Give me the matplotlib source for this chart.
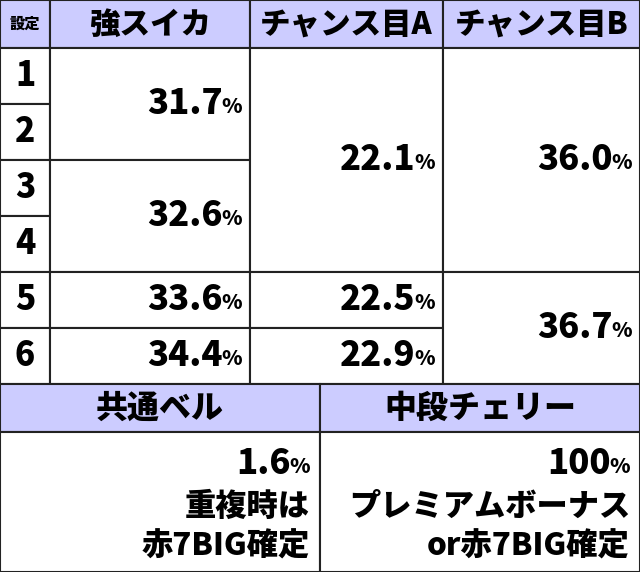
import matplotlib
matplotlib.use("Agg")
import matplotlib.pyplot as plt
from matplotlib.patches import Rectangle

headers = ["強スイカ", "チャンス目A", "チャンス目B"]
settei = ["1", "2", "3", "4", "5", "6"]
suika = [("31.7", 0, 2), ("32.6", 2, 4), ("33.6", 4, 5), ("34.4", 5, 6)]
chanceA = [("22.1", 0, 4), ("22.5", 4, 5), ("22.9", 5, 6)]
chanceB = [("36.0", 0, 4), ("36.7", 4, 6)]
bottom_headers = ["共通ベル", "中段チェリー"]
bell_lines = ["1.6", "重複時は", "赤7BIG確定"]
cherry_lines = ["100", "プレミアムボーナス", "or赤7BIG確定"]

FONT = "Noto Sans CJK JP"
W = 900
LAV = "#ccccff"
fig = plt.figure(figsize=(6.4, 5.72), dpi=100)
ax = fig.add_axes([0, 0, 1, 1])
ax.set_xlim(0, 640); ax.set_ylim(572, 0); ax.axis("off")

cols = [0, 50, 250, 443, 640]
row_top = 48; rh = 56

def rect(x0, y0, x1, y1, fc="white"):
    ax.add_patch(Rectangle((x0, y0), x1 - x0, y1 - y0, facecolor=fc, edgecolor="#222222", lw=1.5))

fig.canvas.draw()
r = fig.canvas.get_renderer()

def pct_text(xr, yc, num, size=25):
    p = ax.text(xr, yc + 3, "%", ha="right", va="center", fontsize=size * 0.6, fontweight=W, family=FONT)
    w = p.get_window_extent(renderer=r).width
    ax.text(xr - w + 1, yc, num, ha="right", va="center", fontsize=size, fontweight=W, family=FONT)

rect(0, 0, 50, row_top, LAV)
ax.text(25, 24, "設定", ha="center", va="center", fontsize=11, fontweight=W, family=FONT)
for i, h in enumerate(headers):
    rect(cols[i + 1], 0, cols[i + 2], row_top, LAV)
    ax.text((cols[i + 1] + cols[i + 2]) / 2, 24, h, ha="center", va="center", fontsize=22, fontweight=W, family=FONT)

for i, s in enumerate(settei):
    y0 = row_top + i * rh
    rect(0, y0, 50, y0 + rh)
    ax.text(25, y0 + rh / 2, s, ha="center", va="center", fontsize=24, fontweight=W, family=FONT)

for ci, data in enumerate([suika, chanceA, chanceB]):
    x0, x1 = cols[ci + 1], cols[ci + 2]
    for v, a, b in data:
        y0 = row_top + a * rh; y1 = row_top + b * rh
        rect(x0, y0, x1, y1)
        pct_text(x1 - 8, (y0 + y1) / 2, v)

yb0 = row_top + 6 * rh; yb1 = yb0 + 48
bx = [0, 320, 640]
for i, h in enumerate(bottom_headers):
    rect(bx[i], yb0, bx[i + 1], yb1, LAV)
    ax.text((bx[i] + bx[i + 1]) / 2, (yb0 + yb1) / 2, h, ha="center", va="center", fontsize=23, fontweight=W, family=FONT)
for i, lines in enumerate([bell_lines, cherry_lines]):
    rect(bx[i], yb1, bx[i + 1], 572)
    xr = bx[i + 1] - 10
    pct_text(xr, yb1 + 32, lines[0])
    for j, t in enumerate(lines[1:]):
        ax.text(xr, yb1 + 74 + j * 40, t, ha="right", va="center", fontsize=22.5, fontweight=W, family=FONT)

fig.savefig("out.png", dpi=100)
